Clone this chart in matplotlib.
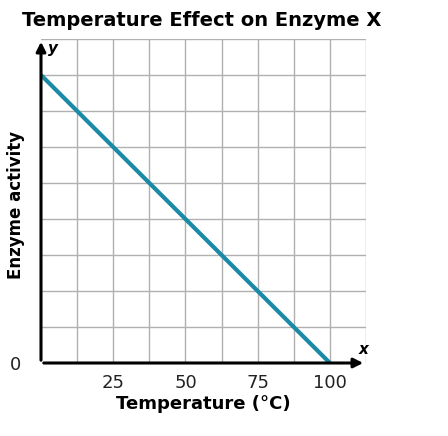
import matplotlib
matplotlib.use("Agg")
import matplotlib.pyplot as plt

temps = [0, 100]
activity = [8, 0]
xticks = [25, 50, 75, 100]

fig = plt.figure(figsize=(4.48, 4.36), dpi=100)
ax = fig.add_axes([41/448, 73/436, 325/448, 324/436])
ax.set_xlim(0, 112.5)
ax.set_ylim(0, 9)
for i in range(1, 10):
    ax.axvline(i*12.5, color='#b0b0b0', lw=1, zorder=1)
for j in range(1, 10):
    ax.axhline(j, color='#b0b0b0', lw=1, zorder=1)
ax.plot(temps, activity, color='#1a8aa6', lw=3, zorder=3, solid_capstyle='butt')
for s in ax.spines.values():
    s.set_visible(False)
ax.annotate('', xy=(1.0, 0), xycoords='axes fraction', xytext=(0, 0),
            arrowprops=dict(arrowstyle='-|>', color='black', lw=2.2, mutation_scale=14), zorder=4)
ax.annotate('', xy=(0, 1.0), xycoords='axes fraction', xytext=(0, 0),
            arrowprops=dict(arrowstyle='-|>', color='black', lw=2.2, mutation_scale=14), zorder=4)
ax.set_xticks(xticks)
ax.set_xticklabels([str(t) for t in xticks], fontsize=13, color='#222222')
ax.set_yticks([0])
ax.set_yticklabels(['0'], fontsize=13, color='#222222')
ax.tick_params(axis='x', length=0, pad=8)
ax.tick_params(axis='y', length=0, pad=14)
ax.text(110, 0.25, 'x', fontsize=11, fontweight='bold', style='italic')
ax.text(2.5, 8.6, 'y', fontsize=11, fontweight='bold', style='italic')
ax.set_xlabel('Temperature (°C)', fontsize=13, fontweight='bold', labelpad=2)
fig.text(16/448, 1 - 205/436, 'Enzyme activity', fontsize=12, fontweight='bold',
         rotation=90, ha='center', va='center')
fig.text(0.45, 0.975, 'Temperature Effect on Enzyme X', fontsize=14, fontweight='bold',
         ha='center', va='top')
fig.savefig('out.png', dpi=100)
